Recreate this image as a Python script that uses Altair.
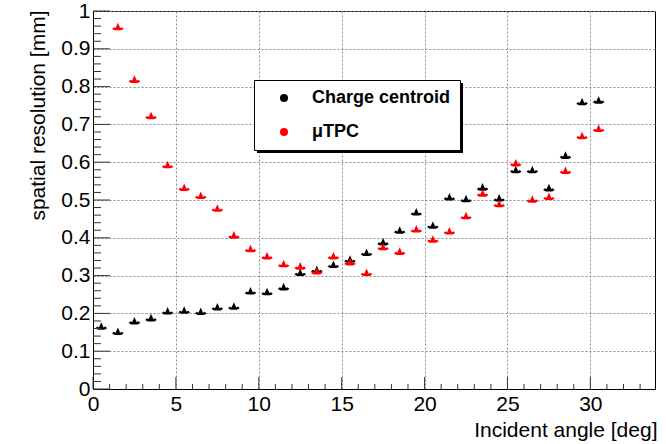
import altair as alt
import pandas as pd

# ---- data ----
angle_cc = [0.5, 1.5, 2.5, 3.5, 4.5, 5.5, 6.5, 7.5, 8.5, 9.5, 10.5, 11.5, 12.5, 13.5,
            14.5, 15.5, 16.5, 17.5, 18.5, 19.5, 20.5, 21.5, 22.5, 23.5, 24.5, 25.5,
            26.5, 27.5, 28.5, 29.5, 30.5]
res_cc = [0.166, 0.152, 0.180, 0.188, 0.206, 0.208, 0.205, 0.217, 0.219, 0.259, 0.257,
          0.270, 0.308, 0.316, 0.329, 0.343, 0.361, 0.389, 0.420, 0.468, 0.433, 0.508,
          0.503, 0.534, 0.505, 0.580, 0.580, 0.532, 0.618, 0.760, 0.764]

angle_tpc = [1.5, 2.5, 3.5, 4.5, 5.5, 6.5, 7.5, 8.5, 9.5, 10.5, 11.5, 12.5, 13.5,
             14.5, 15.5, 16.5, 17.5, 18.5, 19.5, 20.5, 21.5, 22.5, 23.5, 24.5, 25.5,
             26.5, 27.5, 28.5, 29.5, 30.5]
res_tpc = [0.958, 0.819, 0.723, 0.593, 0.533, 0.512, 0.478, 0.407, 0.371, 0.352, 0.331,
           0.325, 0.312, 0.352, 0.336, 0.308, 0.376, 0.364, 0.423, 0.396, 0.418, 0.458,
           0.518, 0.490, 0.598, 0.502, 0.509, 0.578, 0.670, 0.689]

series = ["Charge centroid", "\u03bcTPC"]
colors = ["#000000", "#ff0000"]

x_major = [0, 5, 10, 15, 20, 25, 30]
x_minor = [1, 2, 3, 4, 6, 7, 8, 9, 11, 12, 13, 14, 16, 17, 18, 19, 21, 22, 23, 24,
           26, 27, 28, 29, 31, 32, 33]
y_major = [0, 0.1, 0.2, 0.3, 0.4, 0.5, 0.6, 0.7, 0.8, 0.9, 1.0]
y_minor = [round(i * 0.02, 2) for i in range(51) if i % 5 != 0]

x_title = "Incident angle [deg]"
y_title = "spatial resolution [mm]"

W, H = 562, 378
FONT = "Liberation Sans"

df = pd.DataFrame({
    "angle": angle_cc + angle_tpc,
    "res": res_cc + res_tpc,
    "series": [series[0]] * len(angle_cc) + [series[1]] * len(angle_tpc),
})

xs = alt.Scale(domain=[0, 33.9], nice=False, zero=False)
ys = alt.Scale(domain=[0, 1], nice=False, zero=False)

x_axis = alt.Axis(
    values=x_major, title=x_title, format="d", grid=True,
    ticks=False, tickSize=0, labelPadding=4, labelFontSize=21, labelFont=FONT,
    labelColor="black", labelFlush=False, labelOverlap=False,
    domainColor="black", domainWidth=1,
    gridColor="#8a8a8a", gridDash=[2, 2], gridWidth=1,
    titleFont=FONT, titleFontSize=21, titleFontWeight="normal", titleColor="black",
    titleAlign="right", titleAnchor="end", titleX=W + 2, titleY=47,
    titleBaseline="alphabetic")
y_axis = alt.Axis(
    values=y_major, title=y_title, format="~g", grid=True,
    ticks=False, tickSize=0, labelPadding=3, labelFontSize=21, labelFont=FONT,
    labelColor="black", labelFlush=False, labelOverlap=False,
    domainColor="black", domainWidth=1,
    gridColor="#8a8a8a", gridDash=[2, 2], gridWidth=1,
    titleFont=FONT, titleFontSize=21, titleFontWeight="normal", titleColor="black",
    titleAngle=270, titleAlign="right", titleAnchor="end", titleX=-55, titleY=-1,
    titleBaseline="middle")

crown = "M-1,0.35L-0.7,0.05L-0.4,0.2L0,-0.7L0.4,0.2L0.7,0.05L1,0.35L0.55,0.6L-0.55,0.6Z"

points = alt.Chart(df).mark_point(shape=crown, filled=True, size=135, opacity=1).encode(
    x=alt.X("angle:Q", scale=xs, axis=x_axis, title=x_title),
    y=alt.Y("res:Q", scale=ys, axis=y_axis, title=y_title),
    color=alt.Color("series:N", scale=alt.Scale(domain=series, range=colors),
                    legend=alt.Legend(
                        title=None, orient="none", legendX=161, legendY=69,
                        symbolType="circle", symbolSize=64, symbolStrokeWidth=0,
                        labelFontSize=18, labelFontWeight="bold", labelFont=FONT,
                        labelColor="black", strokeColor="black", fillColor="white",
                        padding=9, rowPadding=16, symbolOffset=12, labelOffset=19)),
)

tick_color = "#333333"


def rule_layer(vals, channel, length):
    d = pd.DataFrame({"v": vals})
    base = alt.Chart(d).mark_rule(color=tick_color, strokeWidth=1)
    if channel == "y":
        return base.encode(y=alt.Y("v:Q", scale=ys, axis=y_axis, title=y_title),
                           x=alt.value(0), x2=alt.value(length))
    return base.encode(x=alt.X("v:Q", scale=xs, axis=x_axis, title=x_title),
                       y=alt.value(H), y2=alt.value(H - length))


ytick_major = rule_layer(y_major, "y", 17)
ytick_minor = rule_layer(y_minor, "y", 8)
xtick_major = rule_layer(x_major, "x", 12)
xtick_minor = rule_layer(x_minor, "x", 5)

# drop shadow of the legend box (decoration)
shadow = alt.Chart(pd.DataFrame({"a": [0]})).mark_rect(color="black").encode(
    x=alt.value(164), x2=alt.value(370), y=alt.value(72), y2=alt.value(142))

chart = alt.layer(
    points, ytick_minor, ytick_major, xtick_minor, xtick_major, shadow
).properties(
    width=W, height=H,
    autosize=alt.AutoSizeParams(type="none"),
    padding={"left": 93, "top": 11, "right": 11, "bottom": 55},
    background="white",
).configure_view(
    stroke="black", strokeWidth=1
)

chart.save("out.html", embed_options={"renderer": "svg", "actions": False})
